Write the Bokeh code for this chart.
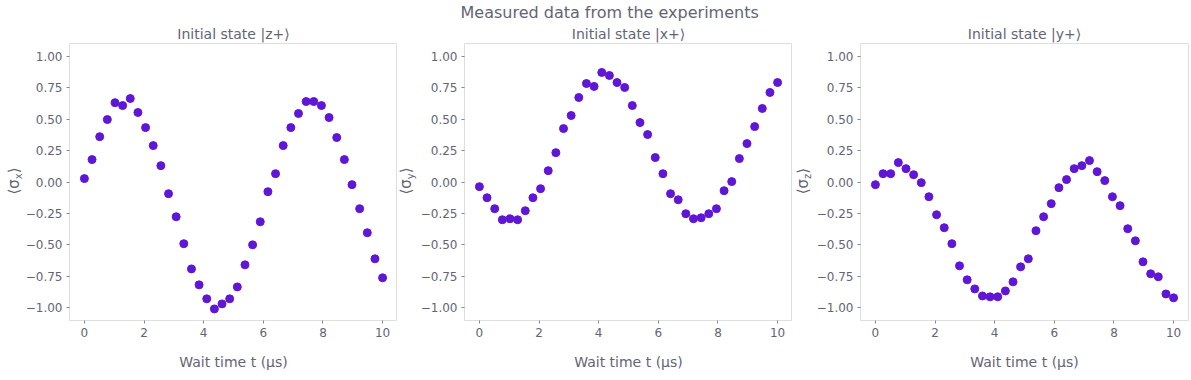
from bokeh.plotting import figure
from bokeh.layouts import row
from bokeh.models import FixedTicker, CustomJSTickFormatter, Range1d, Title, Div
from bokeh.embed import file_html
from bokeh.resources import INLINE

# ---- data ----
wait_time_us = [0.0, 0.256, 0.513, 0.769, 1.026, 1.282, 1.538, 1.795, 2.051, 2.308,
                2.564, 2.821, 3.077, 3.333, 3.590, 3.846, 4.103, 4.359, 4.615, 4.872,
                5.128, 5.385, 5.641, 5.897, 6.154, 6.410, 6.667, 6.923, 7.179, 7.436,
                7.692, 7.949, 8.205, 8.462, 8.718, 8.974, 9.231, 9.487, 9.744, 10.0]

sigma_x_from_zplus = [0.027, 0.178, 0.360, 0.496, 0.630, 0.607, 0.663, 0.552, 0.432, 0.289,
                      0.130, -0.093, -0.276, -0.490, -0.690, -0.817, -0.928, -1.008, -0.968, -0.928,
                      -0.833, -0.658, -0.499, -0.316, -0.077, 0.066, 0.289, 0.432, 0.544, 0.639,
                      0.639, 0.607, 0.512, 0.353, 0.178, -0.021, -0.212, -0.403, -0.610, -0.761]

sigma_y_from_xplus = [-0.037, -0.125, -0.212, -0.300, -0.292, -0.300, -0.228, -0.125, -0.053, 0.090,
                      0.233, 0.424, 0.528, 0.671, 0.782, 0.759, 0.870, 0.846, 0.790, 0.751,
                      0.607, 0.472, 0.377, 0.194, 0.066, -0.093, -0.141, -0.252, -0.292, -0.284,
                      -0.252, -0.212, -0.069, 0.003, 0.186, 0.305, 0.440, 0.584, 0.711, 0.790]

sigma_z_from_yplus = [-0.021, 0.066, 0.066, 0.154, 0.106, 0.058, -0.005, -0.117, -0.260, -0.363,
                      -0.490, -0.666, -0.777, -0.849, -0.905, -0.912, -0.912, -0.865, -0.793, -0.674,
                      -0.610, -0.387, -0.276, -0.172, -0.045, 0.019, 0.106, 0.130, 0.170, 0.082,
                      0.011, -0.117, -0.188, -0.371, -0.467, -0.634, -0.729, -0.753, -0.889, -0.920]

panel_titles = ["Initial state |z+⟩", "Initial state |x+⟩", "Initial state |y+⟩"]
panel_subscripts = ["x", "y", "z"]
panel_series = [sigma_x_from_zplus, sigma_y_from_xplus, sigma_z_from_yplus]
x_ticks = [0, 2, 4, 6, 8, 10]
y_ticks = [-1.0, -0.75, -0.5, -0.25, 0.0, 0.25, 0.5, 0.75, 1.0]
suptitle = "Measured data from the experiments"
x_label = "Wait time t (μs)"

# ---- style / layout ----
FONT = "DejaVu Sans"
TXT = "#646473"
MARK = "#6016d6"
X0, X1 = -0.5, 10.5
Y0, Y1 = -1.1, 1.1
FRAME_W, FRAME_H = 328, 277
TOP, BOTTOM = 43, 52
FIG_H = TOP + FRAME_H + BOTTOM
div_widths = [22, 20, 21]
div_label_x = [15, 10, 12]
border_left = [47, 45, 45]
border_right = [0, 0, 4]


def ylabel_div(sub, w, cx):
    html = (
        f'<div style="position:relative;width:{w}px;height:{FIG_H}px;">'
        f'<span style="position:absolute;left:{cx}px;top:181px;'
        f'transform:translate(-50%,-50%) rotate(-90deg);white-space:nowrap;'
        f'font-family:\'DejaVu Sans\';font-size:15px;color:{TXT};line-height:1;">'
        f'⟨σ<sub style="font-size:10px;vertical-align:-3px;">{sub}</sub>⟩</span></div>'
    )
    return Div(text=html, width=w, height=FIG_H, margin=0)


def make_title(text, size, standoff, align="center", offset=0):
    return Title(text=text, align=align, offset=offset, standoff=standoff,
                 text_font=FONT, text_font_size=size, text_font_style="normal",
                 text_color=TXT)


items = []
for i, (ttl, sub, ys) in enumerate(zip(panel_titles, panel_subscripts, panel_series)):
    p = figure(frame_width=FRAME_W, frame_height=FRAME_H, output_backend="svg",
               toolbar_location=None, x_range=Range1d(X0, X1), y_range=Range1d(Y0, Y1),
               min_border_left=border_left[i], min_border_right=border_right[i],
               min_border_top=TOP, min_border_bottom=BOTTOM, title=None)
    # subplot title first (closest to the frame), then the figure-wide title
    p.add_layout(make_title(ttl, "14px", 4), "above")
    if i == 1:
        p.add_layout(make_title(suptitle, "16px", 0, align="left", offset=-4), "above")

    p.outline_line_color = "#dedede"
    p.outline_line_width = 1
    p.background_fill_color = "white"
    p.border_fill_color = "white"
    p.xgrid.visible = False
    p.ygrid.visible = False

    p.scatter(wait_time_us, ys, size=8, fill_color=MARK, line_color=MARK)

    for ax in (p.xaxis[0], p.yaxis[0]):
        ax.axis_line_color = None
        ax.major_tick_line_color = "#888888"
        ax.major_tick_out = 3
        ax.major_tick_in = 0
        ax.minor_tick_line_color = None
        ax.major_label_text_font = FONT
        ax.major_label_text_font_size = "12px"
        ax.major_label_text_color = TXT
        ax.major_label_standoff = 4
    p.xaxis.ticker = FixedTicker(ticks=x_ticks)
    p.yaxis.ticker = FixedTicker(ticks=y_ticks)
    p.yaxis.formatter = CustomJSTickFormatter(
        code="return tick.toFixed(2).replace('-', '\u2212');")
    p.xaxis.axis_label = x_label
    p.xaxis.axis_label_text_font = FONT
    p.xaxis.axis_label_text_font_size = "14px"
    p.xaxis.axis_label_text_font_style = "normal"
    p.xaxis.axis_label_text_color = TXT
    p.xaxis.axis_label_standoff = 14

    items.append(ylabel_div(sub, div_widths[i], div_label_x[i]))
    items.append(p)

layout = row(*items, spacing=0)
open("out.html", "w").write(file_html(layout, INLINE))
